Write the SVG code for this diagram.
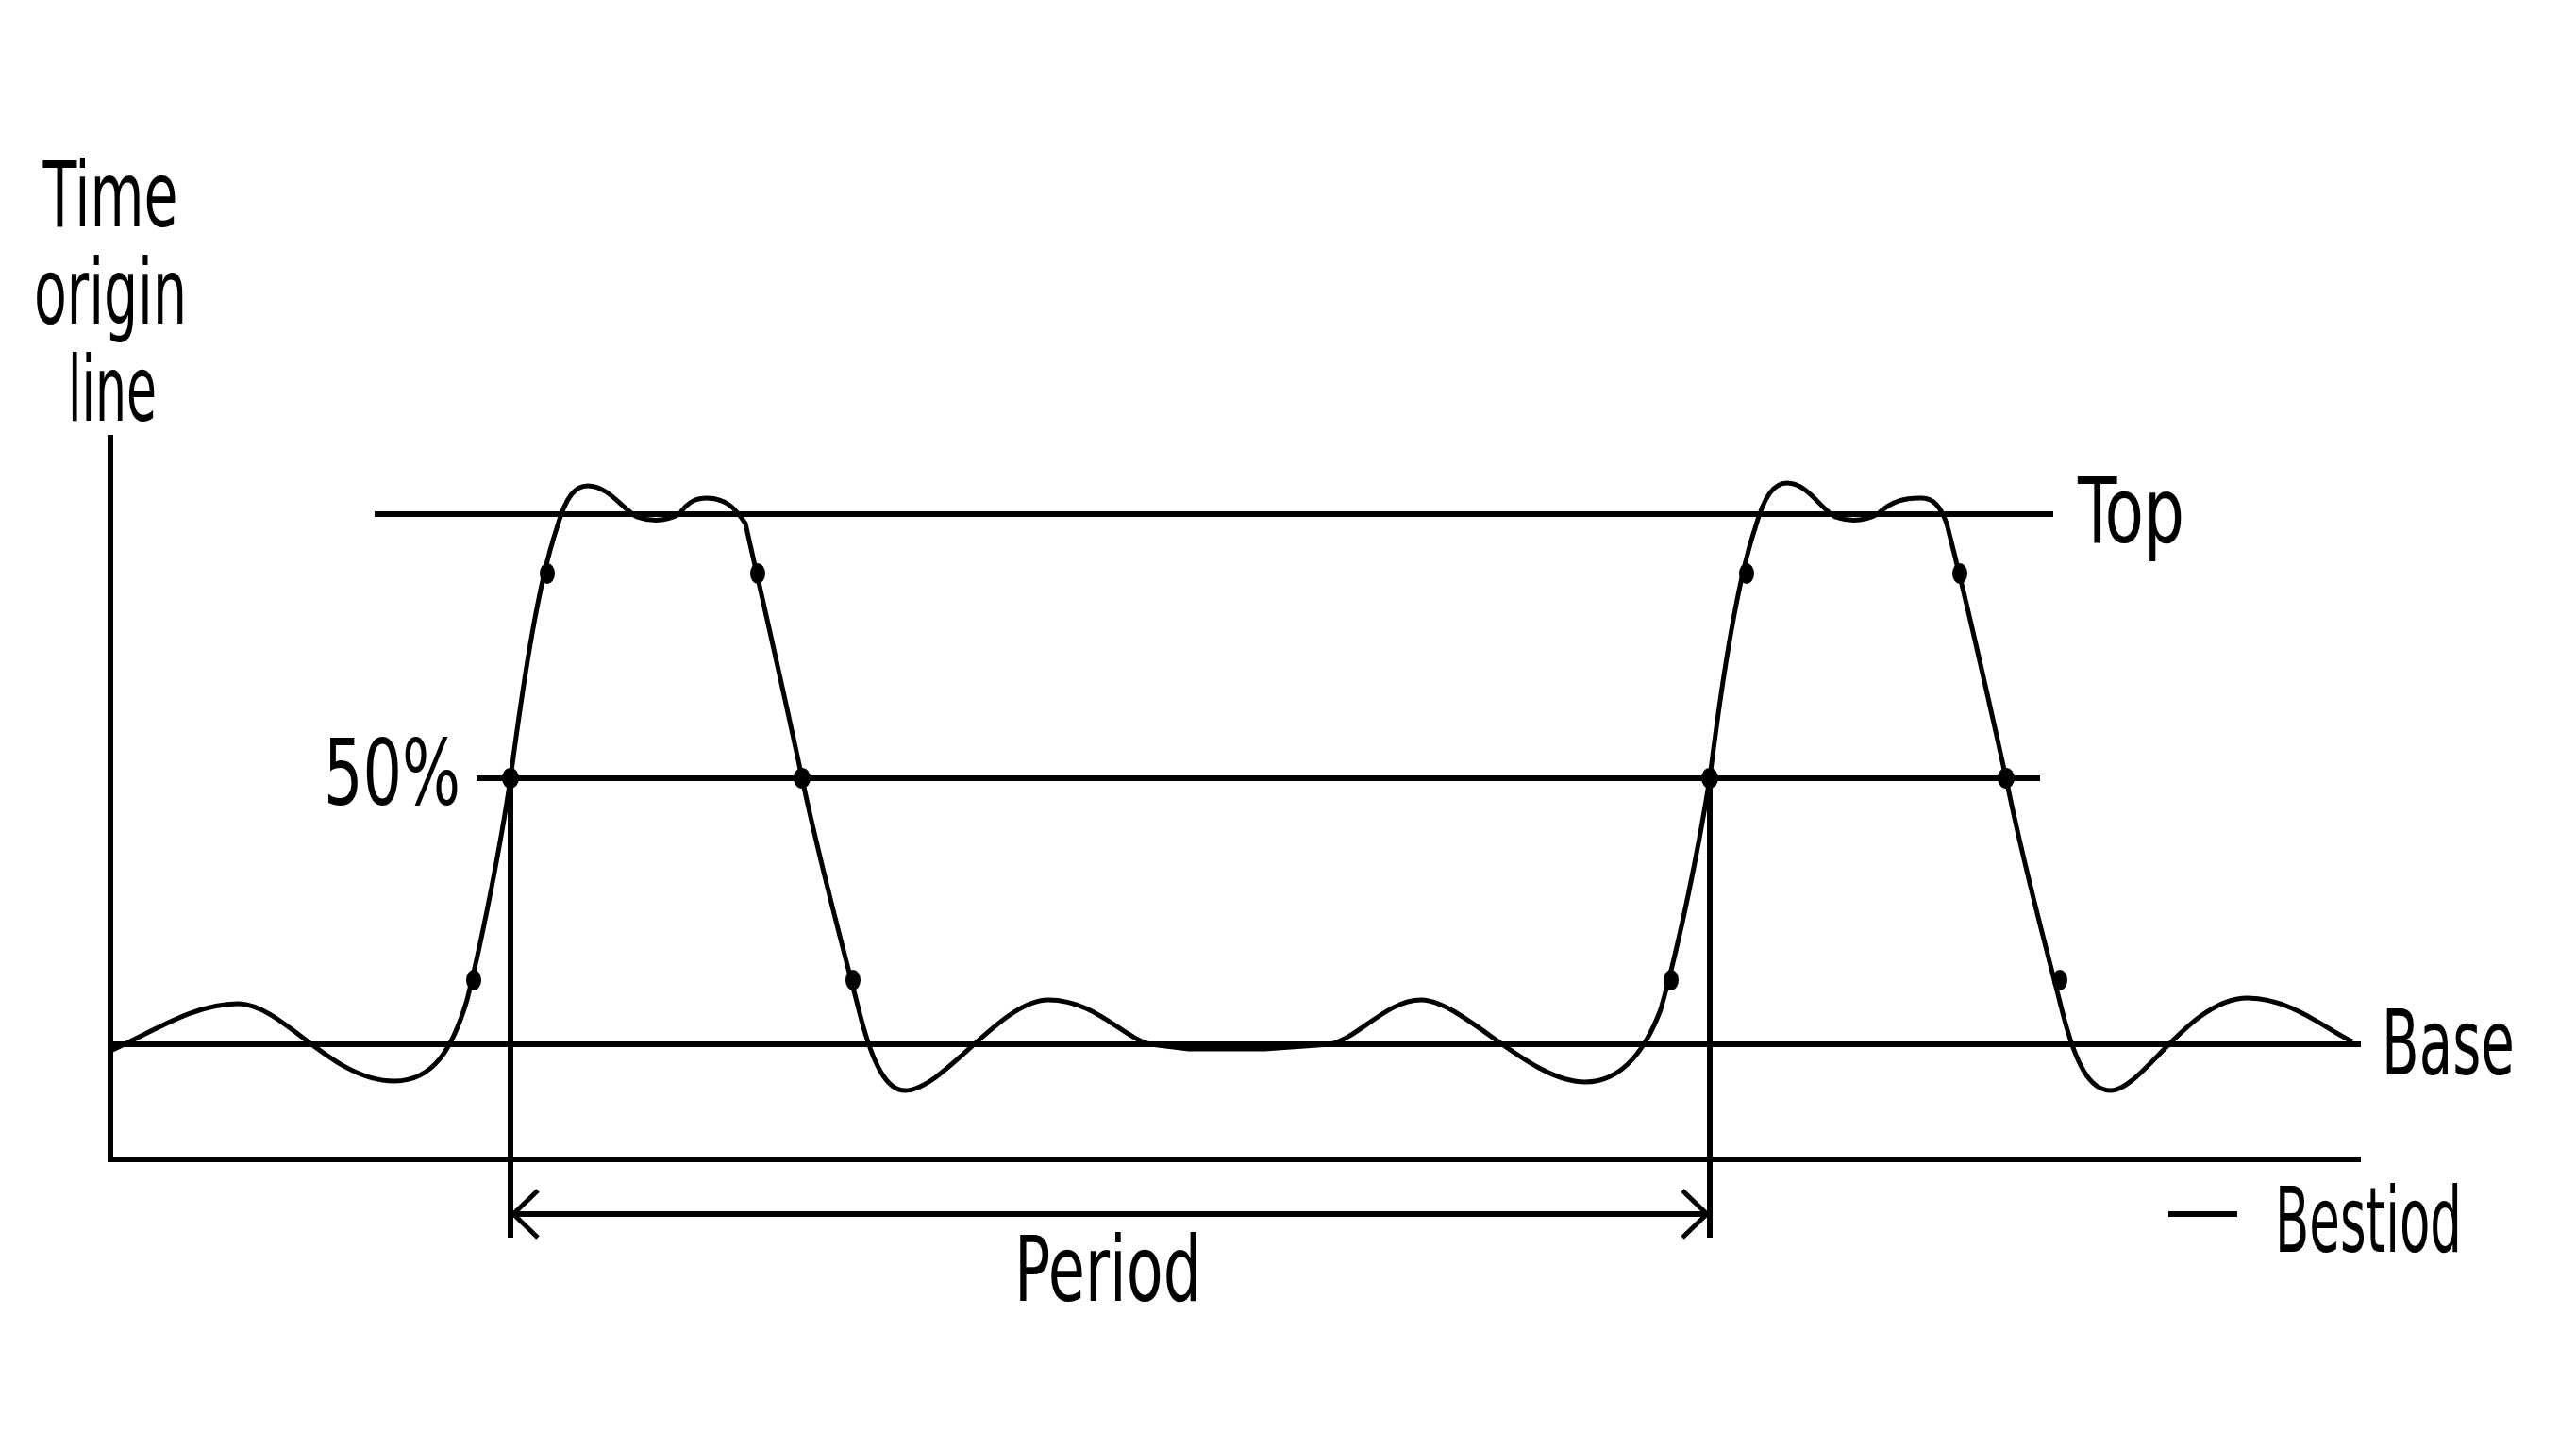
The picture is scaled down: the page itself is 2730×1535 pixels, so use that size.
<svg xmlns="http://www.w3.org/2000/svg" width="2730" height="1535" viewBox="0 0 2730 1535">
<defs>
<style>
.ln{stroke:#000;stroke-width:6;fill:none;stroke-linecap:butt}
.wave{stroke:#000;stroke-width:5;fill:none;stroke-linejoin:round}
.dot{fill:#000}
.lbl{font-family:"Liberation Sans Narrow","DejaVu Sans Condensed","Liberation Sans",sans-serif;font-size:96px;fill:#000}
</style>
<marker id="arr" viewBox="0 0 32 54" markerWidth="32" markerHeight="54" refX="29" refY="27" orient="auto-start-reverse" markerUnits="userSpaceOnUse">
<path d="M3,2 L29,27 L3,52" fill="none" stroke="#000" stroke-width="5"/>
</marker>
</defs>
<rect width="2730" height="1535" fill="#fff"/>

<g id="axes">
<line class="ln" x1="117" y1="461" x2="117" y2="1232"/>
<line class="ln" x1="114" y1="1229" x2="2502" y2="1229"/>
</g>

<g id="levels">
<line id="top-line" class="ln" x1="397" y1="545" x2="2176" y2="545"/>
<line id="mid-line" class="ln" x1="505" y1="825" x2="2162" y2="825"/>
<line id="base-line" class="ln" x1="117" y1="1107" x2="2502" y2="1107"/>
</g>

<g id="waveform">
<path class="wave" d="M117,1114 C160,1095 205,1064 252,1064 C300,1064 350,1146 418,1146 C460,1146 480,1110 495,1060 C510,1000 530,900 541,825 C555,720 570,620 590,560 C600,525 610,515 623,515 C645,515 660,540 675,548 C690,553 705,553 720,545 C730,530 740,528 749,528 C770,528 780,540 790,555 C800,600 830,730 850,825 C870,920 895,1010 910,1070 C925,1130 940,1156 959,1156 C1000,1156 1060,1060 1111,1060 C1160,1060 1190,1100 1219,1107 L1260,1112 L1340,1112 L1410,1107 C1440,1100 1470,1060 1506,1060 C1550,1060 1620,1147 1680,1147 C1720,1147 1745,1110 1760,1070 C1780,1000 1800,900 1812,825 C1825,720 1840,620 1860,560 C1870,525 1880,512 1894,512 C1915,512 1930,540 1945,548 C1960,553 1975,553 1990,545 C2005,530 2020,528 2037,528 C2050,528 2058,540 2063,555 C2080,620 2105,730 2126,825 C2145,920 2170,1010 2185,1070 C2200,1130 2215,1156 2237,1156 C2270,1156 2320,1058 2382,1058 C2430,1058 2470,1095 2493,1104"/>
</g>

<g id="points">
<ellipse class="dot" cx="502" cy="1039" rx="8" ry="11"/>
<ellipse class="dot" cx="541" cy="825" rx="9" ry="11"/>
<ellipse class="dot" cx="580" cy="608" rx="8" ry="11"/>
<ellipse class="dot" cx="803" cy="608" rx="8" ry="11"/>
<ellipse class="dot" cx="850" cy="825" rx="9" ry="11"/>
<ellipse class="dot" cx="904" cy="1039" rx="8" ry="11"/>
<ellipse class="dot" cx="1771" cy="1039" rx="8" ry="11"/>
<ellipse class="dot" cx="1812" cy="825" rx="9" ry="11"/>
<ellipse class="dot" cx="1851" cy="608" rx="8" ry="11"/>
<ellipse class="dot" cx="2077" cy="608" rx="8" ry="11"/>
<ellipse class="dot" cx="2126" cy="825" rx="9" ry="11"/>
<ellipse class="dot" cx="2183" cy="1039" rx="8" ry="11"/>
</g>

<g id="connectors">
<line class="ln" x1="541" y1="825" x2="541" y2="1312"/>
<line class="ln" x1="1812" y1="825" x2="1812" y2="1312"/>
<line class="ln" x1="544" y1="1287" x2="1809" y2="1287" marker-start="url(#arr)" marker-end="url(#arr)"/>
<line class="ln" x1="2298" y1="1287" x2="2371" y2="1287"/>
</g>

<g id="labels">
<text class="lbl" x="117" y="240" text-anchor="middle" textLength="143" lengthAdjust="spacingAndGlyphs">Time</text>
<text class="lbl" x="117" y="343" text-anchor="middle" textLength="162" lengthAdjust="spacingAndGlyphs">origin</text>
<text class="lbl" x="119" y="446" text-anchor="middle" textLength="94" lengthAdjust="spacingAndGlyphs">line</text>
<text class="lbl" x="2202" y="575" textLength="113" lengthAdjust="spacingAndGlyphs">Top</text>
<text class="lbl" x="343" y="853" textLength="145" lengthAdjust="spacingAndGlyphs">50%</text>
<text class="lbl" x="2524" y="1139" textLength="141" lengthAdjust="spacingAndGlyphs">Base</text>
<text class="lbl" x="2411" y="1327" textLength="198" lengthAdjust="spacingAndGlyphs">Bestiod</text>
<text class="lbl" x="1075" y="1379" textLength="198" lengthAdjust="spacingAndGlyphs">Period</text>
</g>
</svg>
